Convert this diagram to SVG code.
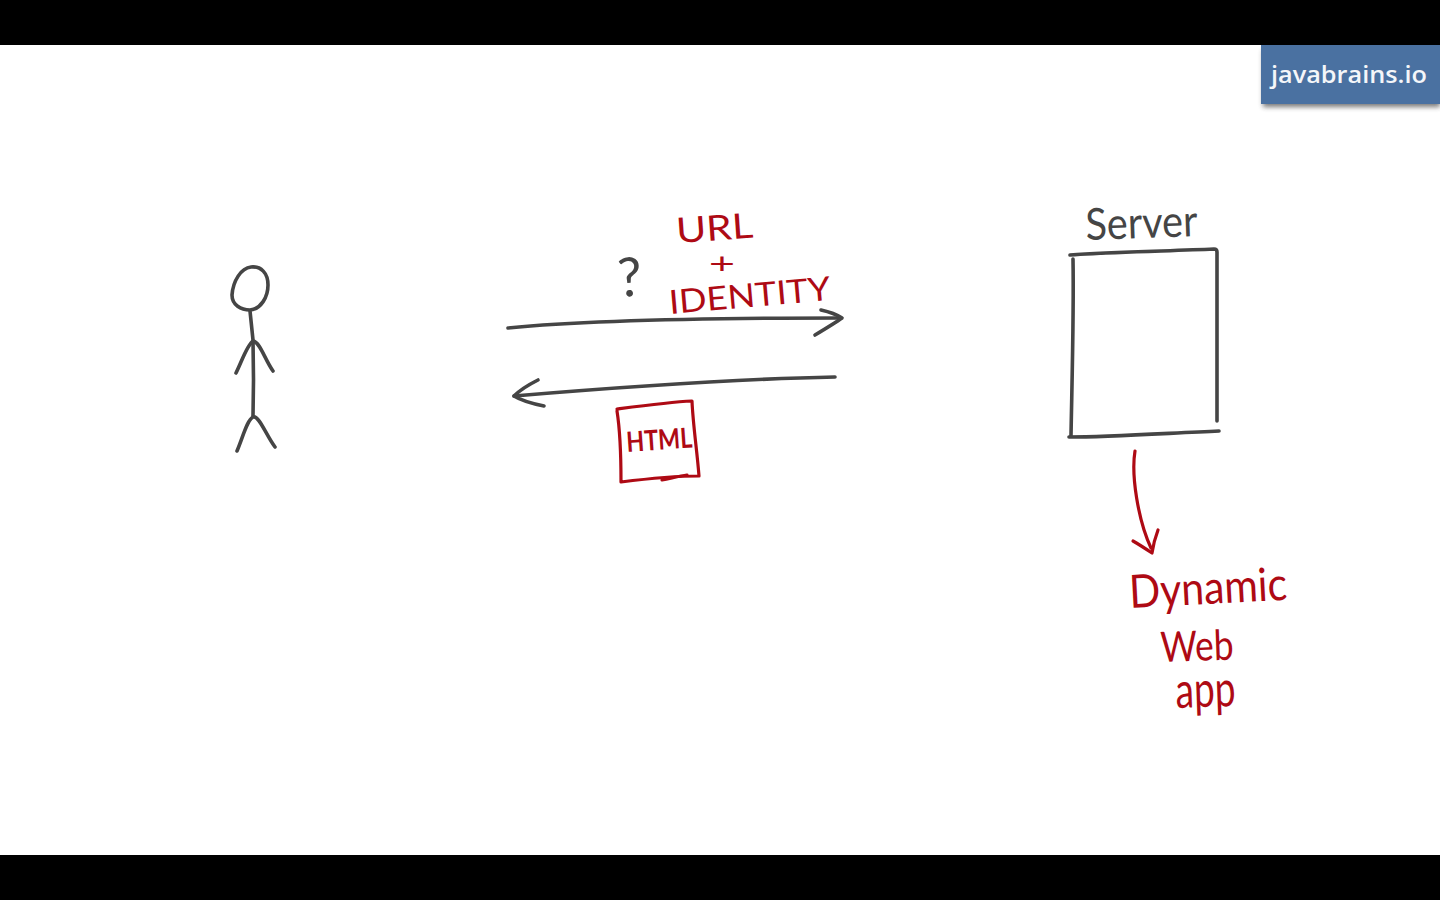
<svg xmlns="http://www.w3.org/2000/svg" width="1440" height="900" viewBox="0 0 1440 900">
<style>
.ink{fill:none;stroke:#454545;stroke-width:3.6;stroke-linecap:round;stroke-linejoin:round}
.red{fill:none;stroke:#ae0a14;stroke-width:3.2;stroke-linecap:round;stroke-linejoin:round}
.hand{font-family:"Lato","Noto Sans",sans-serif;font-weight:400}
.rt{fill:#ae0a14}
.gt{fill:#454545}
</style>
<defs><filter id="sh" x="-10%" y="-30%" width="120%" height="170%"><feGaussianBlur stdDeviation="2.5"/></filter></defs>
<rect width="1440" height="900" fill="#fff"/>
<rect width="1440" height="45" fill="#000"/>
<rect y="855" width="1440" height="45" fill="#000"/>
<g id="badge">
<rect x="1263" y="50" width="177" height="57" fill="#333" opacity=".65" filter="url(#sh)"/>
<rect x="1261" y="45" width="179" height="59" fill="#4a71a1"/>
<text x="1271" y="83" textLength="156" lengthAdjust="spacingAndGlyphs" font-family="'Open Sans','Noto Sans',sans-serif" font-weight="600" font-size="24" fill="#f4f6f9">javabrains.io</text>
</g>
<g id="person">
<path class="ink" d="M251 267C241 268 233 281 232 295C232 305 241 310 250 310C261 309 268 297 268 285C268 273 261 266 251 267Z"/>
<path class="ink" d="M250 311L253 340L253.500 380L253 416"/>
<path class="ink" d="M253 341C247 345 242 361 236 373M253 341C260 342 265 360 273 371"/>
<path class="ink" d="M253 417C247 420 243 437 237 451M253 417C259 415 266 435 275 447"/>
</g>
<g id="connectors">
<path class="ink" d="M508 328C590 320 700 318 840 318"/>
<path class="ink" d="M821 310C830 312 836 314 842 318C835 323 825 329 815 335"/>
<path class="ink" d="M835 377C730 379 610 388 514 396"/>
<path class="ink" d="M538 380C530 384 520 390 514 396C522 401 534 404 544 406"/>
<path class="red" d="M1135 451C1131 475 1138 520 1151 548"/>
<path class="red" d="M1133 541C1140 545 1146 549 1152 553C1153 546 1155 538 1158 530"/>
</g>
<g id="question">
<text class="hand gt" x="619" y="297" font-size="54" transform="rotate(-4 619 297)">?</text>
</g>
<g id="request-label">
<text class="hand rt" x="677" y="243" font-size="35" transform="rotate(-4 677 243)" textLength="77" lengthAdjust="spacingAndGlyphs">URL</text>
<text x="709" y="274" font-family="'Liberation Sans',sans-serif" font-size="30" fill="#ae0a14" textLength="26" lengthAdjust="spacingAndGlyphs">+</text>
<text class="hand rt" x="670" y="314" font-size="33" transform="rotate(-5 670 314)" textLength="162" lengthAdjust="spacingAndGlyphs">IDENTITY</text>
</g>
<g id="html-doc">
<path class="red" d="M617 409C640 406 670 402 692 401C693 425 697 450 699 476C675 476 645 479 621 482C621 455 620 430 617 411"/>
<path class="red" d="M662 480C672 478 680 476 687 475"/>
<text class="hand rt" x="627" y="452" font-size="28" style="font-weight:700" transform="rotate(-4 627 452)" textLength="66" lengthAdjust="spacingAndGlyphs">HTML</text>
</g>
<g id="server">
<text class="hand gt" x="1086" y="240" font-size="44" transform="rotate(-2 1086 240)" textLength="112" lengthAdjust="spacingAndGlyphs">Server</text>
<path class="ink" d="M1070 255C1110 252 1170 251 1214 249C1216 249 1217 250 1217 252C1217 300 1217 370 1217 421"/>
<path class="ink" d="M1073 259C1074 310 1072 380 1071 436"/>
<path class="ink" d="M1069 437C1110 437 1170 433 1219 431"/>
</g>
<g id="dynamic-web-app">
<text class="hand rt" x="1130" y="608" font-size="46" transform="rotate(-3 1130 608)" textLength="158" lengthAdjust="spacingAndGlyphs">Dynamic</text>
<text class="hand rt" x="1161" y="662" font-size="42" transform="rotate(-2 1161 662)" textLength="73" lengthAdjust="spacingAndGlyphs">Web</text>
<text class="hand rt" x="1176" y="708" font-size="50" transform="rotate(-2 1176 708)" textLength="60" lengthAdjust="spacingAndGlyphs">app</text>
</g>
</svg>
